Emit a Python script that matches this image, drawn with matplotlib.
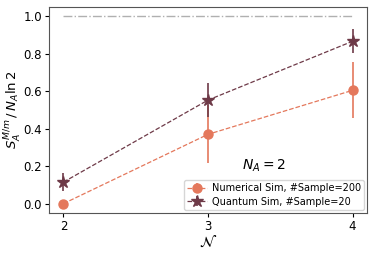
import matplotlib
matplotlib.use("Agg")
import matplotlib.pyplot as plt

N = [2, 3, 4]
num_vals = [0.0, 0.37, 0.605]
num_err = [0.0, 0.155, 0.15]
q_vals = [0.115, 0.553, 0.867]
q_err = [0.05, 0.09, 0.063]

c_num = "#E4785C"
c_q = "#6E3A48"

fig = plt.figure(figsize=(3.74, 2.54), dpi=100)
ax = fig.add_axes([49/374, 1-213/254, (367-49)/374, (213-7)/254])

ax.plot([2, 4], [1.0, 1.0], color="#b0b0b0", ls="-.", lw=1.0)
ax.errorbar(N, num_vals, yerr=num_err, color=c_num, ls="--", lw=0.9, marker="o",
            ms=6.5, elinewidth=1.2, label="Numerical Sim, #Sample=200")
ax.errorbar(N, q_vals, yerr=q_err, color=c_q, ls="--", lw=0.9, marker="*",
            ms=9, elinewidth=1.2, label="Quantum Sim, #Sample=20")

ax.set_xlim(1.9, 4.1)
ax.set_ylim(-0.05, 1.05)
ax.set_xticks(N)
ax.set_yticks([0.0, 0.2, 0.4, 0.6, 0.8, 1.0])
ax.tick_params(labelsize=8.5, length=3, pad=2)
for s in ax.spines.values():
    s.set_color("#555555")
ax.set_xlabel(r"$\mathcal{N}$", fontsize=11, labelpad=1)
ax.set_ylabel(r"$S_A^{M/m}\,/\,N_A\ln2$", fontsize=9.5)
ax.yaxis.set_label_coords(-0.08, 0.5)
ax.text(3.39, 0.2, r"$N_A=2$", fontsize=10, fontweight="bold",
        ha="center", va="center")
ax.legend(loc="lower right", fontsize=7, handlelength=2, borderpad=0.35,
          labelspacing=0.35, handletextpad=0.5, borderaxespad=0.3)

fig.savefig("out.png", dpi=100)
